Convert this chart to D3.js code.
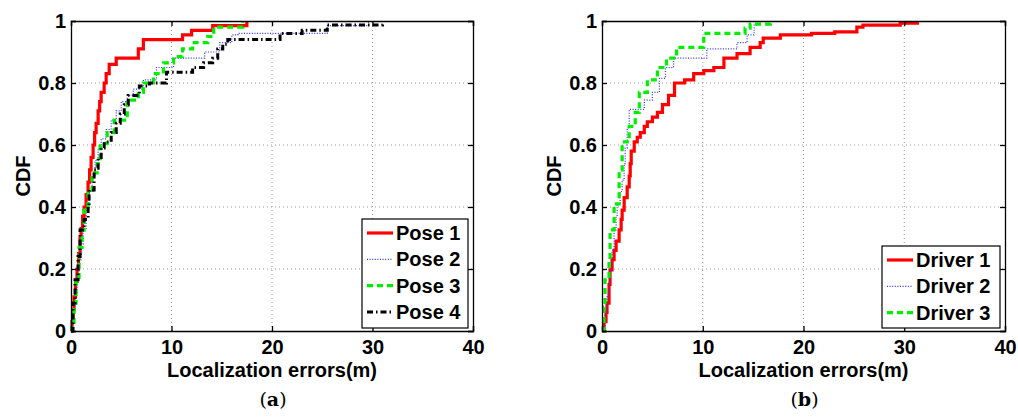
<!DOCTYPE html>
<html>
<head>
<meta charset="utf-8">
<script src="https://cdn.jsdelivr.net/npm/d3@7/dist/d3.min.js"></script>
<style>
  body { margin: 0; background: #fff; }
  svg { display: block; }
  svg text { font-family: "Liberation Sans", Arial, sans-serif; font-weight: bold; }
</style>
</head>
<body>
<div id="container"></div>
<script>
// ---------------------------------------------------------------- data
var xTicks = [0, 10, 20, 30, 40];
var yTicks = [0, 0.2, 0.4, 0.6, 0.8, 1];

var pose1Err = [0,0.1,0.2,0.3,0.45,0.6,0.75,0.9,1.0,1.15,1.3,1.5,1.7,1.85,2.0,2.2,2.35,2.5,2.7,2.85,3.0,3.3,3.5,3.8,4.5,6.7,7.2,11.1,12.0,14.1,17.5];
var pose1Cdf = [0,0.03,0.07,0.11,0.16,0.2,0.25,0.3,0.33,0.37,0.4,0.44,0.48,0.52,0.56,0.6,0.64,0.67,0.71,0.74,0.77,0.8,0.83,0.86,0.88,0.91,0.94,0.955,0.97,0.985,1.0];
var pose2Err = [0,0.2,0.4,0.6,0.8,1.0,1.2,1.5,1.8,2.1,2.4,2.7,3.0,3.5,4.0,4.5,5.0,5.6,6.2,7.2,8.5,10.2,13.3,14.8,16.0,16.6,25.5,29.6];
var pose2Cdf = [0,0.06,0.12,0.18,0.23,0.28,0.33,0.39,0.45,0.5,0.55,0.59,0.62,0.65,0.68,0.71,0.74,0.76,0.78,0.81,0.85,0.88,0.9,0.93,0.955,0.96,0.985,1.0];
var pose3Err = [0,0.1,0.3,0.5,0.8,1.1,1.3,1.7,2.1,2.6,2.9,3.6,4.3,5.6,6.7,7.2,8.2,9.2,10.2,11.1,12.1,13.6,14.2,17.1];
var pose3Cdf = [0,0.01,0.09,0.165,0.27,0.325,0.39,0.445,0.51,0.54,0.605,0.64,0.68,0.745,0.77,0.8,0.83,0.865,0.885,0.91,0.93,0.95,0.98,1.0];
var pose4Err = [0,0.2,0.4,0.7,0.9,1.3,1.7,1.8,2.3,2.5,2.7,3.0,3.3,4.0,4.5,4.9,5.3,5.7,6.8,7.8,9.5,12.1,13.2,14.1,14.6,15.1,15.6,20.8,23.0,25.5,31.0];
var pose4Cdf = [0,0.09,0.165,0.24,0.326,0.36,0.40,0.455,0.52,0.525,0.56,0.59,0.61,0.64,0.67,0.70,0.73,0.76,0.79,0.80,0.835,0.85,0.865,0.88,0.91,0.925,0.94,0.96,0.97,0.987,1.0];

var driver1Err = [0,0.2,0.4,0.5,0.7,0.8,1.0,1.2,1.4,1.7,1.9,2.0,2.2,2.5,2.7,2.8,2.9,3.2,3.5,3.8,4.2,4.5,5.0,5.5,6.0,6.6,7.2,8.2,9.1,10.1,11.1,12.1,13.4,14.7,15.7,16.0,17.7,20.8,23.1,25.3,25.9,29.6,31.3];
var driver1Cdf = [0,0.03,0.06,0.09,0.15,0.197,0.23,0.26,0.29,0.326,0.36,0.39,0.43,0.465,0.5,0.54,0.58,0.61,0.625,0.64,0.66,0.675,0.69,0.705,0.73,0.76,0.80,0.81,0.83,0.84,0.85,0.88,0.895,0.915,0.93,0.945,0.955,0.96,0.965,0.98,0.987,0.993,1.0];
var driver2Err = [0,0.3,0.5,0.7,0.8,1.0,1.2,1.4,1.5,1.8,2.0,2.2,2.3,2.5,2.7,4.2,5.0,5.7,6.3,7.1,10.4,13.4,14.4,15.1,15.5];
var driver2Cdf = [0,0.06,0.11,0.16,0.197,0.26,0.326,0.37,0.41,0.45,0.487,0.54,0.59,0.655,0.715,0.745,0.77,0.815,0.85,0.88,0.91,0.93,0.955,0.987,1.0];
var driver3Err = [0,0.2,0.3,0.7,0.8,1.2,1.7,2.0,2.7,3.3,3.7,4.5,5.5,6.4,7.4,10.1,14.2,14.7,16.7];
var driver3Cdf = [0,0.077,0.165,0.23,0.326,0.41,0.52,0.61,0.66,0.705,0.77,0.81,0.85,0.88,0.915,0.96,0.977,0.99,1.0];

var poseNames = ['Pose 1', 'Pose 2', 'Pose 3', 'Pose 4'];
var driverNames = ['Driver 1', 'Driver 2', 'Driver 3'];

// line styles (matlab look)
var styles = [
  { color: '#ff0000', width: 3.2, dash: null },
  { color: '#3030ff', width: 1.2, dash: '1,1.6' },
  { color: '#00ee00', width: 3.2, dash: '6,4' },
  { color: '#000000', width: 3,   dash: '6,3,1.5,3' }
];

var fontSize = '20px';

var svg = d3.select('#container').append('svg').attr('width', 1018).attr('height', 418);
svg.append('rect').attr('width', 1018).attr('height', 418).attr('fill', '#fff');

// ---------------------------------------------------------------- panel
function drawPanel(x0, x1, series, names, legendBox, tag){
  var xScale = d3.scaleLinear().domain([0, 40]).range([x0, x1]);
  var yScale = d3.scaleLinear().domain([0, 1]).range([331, 21]);
  var g = svg.append('g');

  // grid
  g.selectAll('.gx').data(xTicks.slice(1, -1)).enter().append('line')
    .attr('x1', function(d){ return xScale(d); }).attr('x2', function(d){ return xScale(d); })
    .attr('y1', yScale(0)).attr('y2', yScale(1))
    .attr('stroke', '#999').attr('stroke-width', 1).attr('stroke-dasharray', '1,3');
  g.selectAll('.gy').data(yTicks.slice(1, -1)).enter().append('line')
    .attr('x1', xScale(0)).attr('x2', xScale(40))
    .attr('y1', function(d){ return yScale(d); }).attr('y2', function(d){ return yScale(d); })
    .attr('stroke', '#999').attr('stroke-width', 1).attr('stroke-dasharray', '1,3');

  // curves
  var line = d3.line().curve(d3.curveStepAfter)
    .x(function(d){ return xScale(d[0]); })
    .y(function(d){ return yScale(d[1]); });
  series.forEach(function(s, i){
    var pts = s[0].map(function(e, k){ return [e, s[1][k]]; });
    var st = styles[i];
    g.append('path').attr('d', line(pts)).attr('fill', 'none')
      .attr('stroke', st.color).attr('stroke-width', st.width)
      .attr('stroke-dasharray', st.dash);
  });

  // axes (ticks inside, box)
  var bottom = g.append('g').attr('transform', 'translate(0,' + yScale(0) + ')')
    .call(d3.axisBottom(xScale).tickValues(xTicks).tickSize(-5).tickPadding(9).tickFormat(d3.format('d')));
  var top = g.append('g').attr('transform', 'translate(0,' + yScale(1) + ')')
    .call(d3.axisTop(xScale).tickValues(xTicks).tickSize(-5).tickFormat(''));
  var left = g.append('g').attr('transform', 'translate(' + xScale(0) + ',0)')
    .call(d3.axisLeft(yScale).tickValues(yTicks).tickSize(-5).tickPadding(5).tickFormat(function(d){ return d === 0 || d === 1 ? d : d.toFixed(1); }));
  var right = g.append('g').attr('transform', 'translate(' + xScale(40) + ',0)')
    .call(d3.axisRight(yScale).tickValues(yTicks).tickSize(-5).tickFormat(''));
  [bottom, top, left, right].forEach(function(a){
    a.selectAll('path, line').attr('stroke', '#000').attr('stroke-width', 1.3);
    a.selectAll('text').attr('fill', '#000').style('font-size', fontSize).style('font-weight', 'bold')
      .style('font-family', '"Liberation Sans", Arial, sans-serif');
  });

  // labels
  g.append('text').attr('x', (xScale(0) + xScale(40)) / 2).attr('y', 377)
    .attr('text-anchor', 'middle').style('font-size', fontSize).text('Localization errors(m)');
  g.append('text').attr('transform', 'translate(' + (xScale(0) - 41) + ',176) rotate(-90)')
    .attr('text-anchor', 'middle').style('font-size', fontSize).text('CDF');
  var cap = g.append('text').attr('x', (xScale(0) + xScale(40)) / 2 + 1).attr('y', 406)
    .attr('text-anchor', 'middle').style('font-family', '"DejaVu Serif", serif')
    .style('font-weight', 'normal').style('font-size', '19px');
  cap.append('tspan').text('(');
  cap.append('tspan').style('font-weight', 'bold').text(tag);
  cap.append('tspan').text(')');

  // legend
  var lg = g.append('g');
  lg.append('rect').attr('x', legendBox[0]).attr('y', legendBox[1])
    .attr('width', legendBox[2]).attr('height', legendBox[3])
    .attr('fill', '#fff').attr('stroke', '#000').attr('stroke-width', 1.2);
  names.forEach(function(n, i){
    var yy = legendBox[1] + 14 + i * 26.3;
    var st = styles[i];
    lg.append('line').attr('x1', legendBox[0] + 5).attr('x2', legendBox[0] + 31)
      .attr('y1', yy).attr('y2', yy)
      .attr('stroke', st.color).attr('stroke-width', st.width).attr('stroke-dasharray', st.dash);
    lg.append('text').attr('x', legendBox[0] + 34).attr('y', yy + 7)
      .style('font-size', fontSize).text(n);
  });
}

drawPanel(71, 473,
  [[pose1Err, pose1Cdf], [pose2Err, pose2Cdf], [pose3Err, pose3Cdf], [pose4Err, pose4Cdf]],
  poseNames, [362, 219, 106, 109], 'a');
drawPanel(602, 1005,
  [[driver1Err, driver1Cdf], [driver2Err, driver2Cdf], [driver3Err, driver3Cdf]],
  driverNames, [882, 246, 118, 82], 'b');
</script>
</body>
</html>
